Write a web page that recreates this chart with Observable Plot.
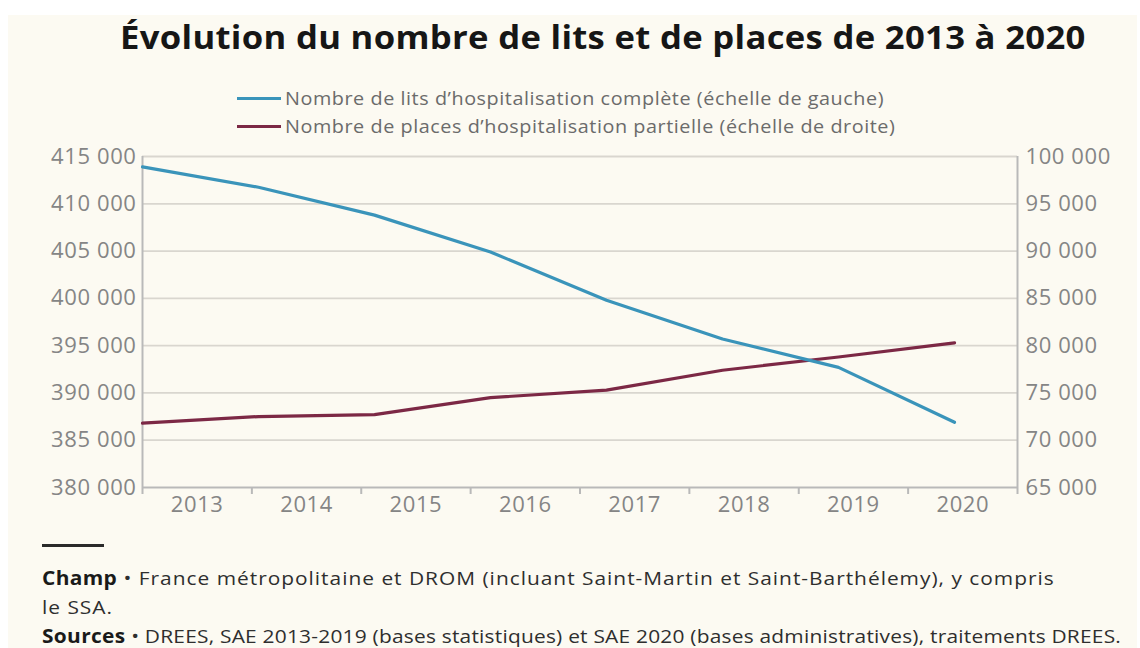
<!DOCTYPE html>
<html>
<head>
<meta charset="utf-8">
<script src="https://cdn.jsdelivr.net/npm/d3@7"></script>
<script src="https://cdn.jsdelivr.net/npm/@observablehq/plot@0.6"></script>
<style>
  html, body { margin: 0; padding: 0; background: #ffffff; }
  #page { position: relative; width: 1140px; height: 648px; overflow: hidden; font-family: "Open Sans", sans-serif; }
  #bg { position: absolute; left: 8px; top: 15px; width: 1129px; height: 633px; background: #fcfaf2; }
  #title { position: absolute; left: 120px; top: 14px; font-size: 33px; font-weight: 700; color: #161616; white-space: nowrap; letter-spacing: 0.3px; transform: scaleX(1.05); transform-origin: left center; }
  #legend { position: absolute; left: 237px; top: 84px; font-size: 18px; color: #6b6b6b; line-height: 28px; }
  .leg { display: flex; align-items: center; white-space: nowrap; }
  .sw { display: inline-block; width: 44px; height: 3px; margin-right: 4px; }
  .lt { display: inline-block; letter-spacing: 0.5px; transform: scaleX(1.1); transform-origin: left center; }
  .layer { position: absolute; left: 0; top: 0; }
  #foot { position: absolute; left: 42px; top: 544px; color: #2e2e2e; font-size: 19px; line-height: 29px; white-space: nowrap; }
  #foot .bar { width: 62px; height: 3px; background: #2a2a2a; margin-bottom: 17px; }
  #foot .ln { letter-spacing: 0.9px; transform: scaleX(1.1); transform-origin: left center; }
  #foot .ln.src { letter-spacing: 0.2px; }
  #foot b { font-weight: 700; color: #1a1a1a; letter-spacing: 0.3px; }
</style>
</head>
<body>
<div id="page">
  <div id="bg"></div>
  <div id="title">Évolution du nombre de lits et de places de 2013 à 2020</div>
  <div id="legend"></div>
  <div id="axisLayer" class="layer"></div>
  <div id="chartLayer" class="layer"></div>
  <div id="foot">
    <div class="bar"></div>
    <div class="ln"><b>Champ</b> • France métropolitaine et DROM (incluant Saint-Martin et Saint-Barthélemy), y compris</div>
    <div class="ln">le SSA.</div>
    <div class="ln src"><b>Sources</b> • DREES, SAE 2013-2019 (bases statistiques) et SAE 2020 (bases administratives), traitements DREES.</div>
  </div>
</div>
<script>
// ---- Data ----
const years = [2013, 2014, 2015, 2016, 2017, 2018, 2019, 2020];
const litsHC = [413900, 411750, 408800, 404900, 399800, 395700, 392700, 386900];   // left scale
const placesHP = [71800, 72500, 72700, 74500, 75300, 77400, 78800, 80300];         // right scale
const seriesNames = [
  "Nombre de lits d’hospitalisation complète (échelle de gauche)",
  "Nombre de places d’hospitalisation partielle (échelle de droite)"
];
const seriesColors = ["#3a94ba", "#7c2845"];
const leftTicks = [380000, 385000, 390000, 395000, 400000, 405000, 410000, 415000];
const rightTicks = [65000, 70000, 75000, 80000, 85000, 90000, 95000, 100000];

// ---- Helpers ----
const fr = d3.formatLocale({decimal: ",", thousands: " ", grouping: [3], currency: ["", " €"]});
const fmt = fr.format(",d");
const leftDomain = [leftTicks[0], leftTicks[leftTicks.length - 1]];
const offset = leftTicks[0] - rightTicks[0]; // maps right scale onto left scale (same span)

const table = years.map((year, i) => ({year, lits: litsHC[i], places: placesHP[i] + offset}));

// Legend
const legend = document.getElementById("legend");
seriesNames.forEach((name, i) => {
  const row = document.createElement("div");
  row.className = "leg";
  row.innerHTML = `<span class="sw" style="background:${seriesColors[i]}"></span><span class="lt">${name}</span>`;
  legend.appendChild(row);
});

const W = 1140, H = 520, mL = 142, mR = 123, mT = 156, mB = 33;
const font = "'Open Sans', sans-serif";
const tickColor = "#858585";
const baseStyle = {background: "transparent", fontFamily: font, fontSize: "22px", letterSpacing: "0.6px", color: tickColor, overflow: "visible"};

// ---- Category axis layer (band-centred labels) ----
const bounds = [years[0] - 0.5, ...years.map(y => y + 0.5)];
const axisPlot = Plot.plot({
  width: W, height: H, marginLeft: mL, marginRight: mR, marginTop: mT, marginBottom: mB,
  style: baseStyle,
  x: {domain: [bounds[0], bounds[bounds.length - 1]], axis: null},
  y: {domain: leftDomain, axis: null},
  marks: [
    Plot.ruleY(leftTicks.slice(1), {stroke: "#d9d6cf", strokeWidth: 1.8}),
    Plot.ruleY([leftTicks[0]], {stroke: "#b9b9b9", strokeWidth: 2}),
    Plot.ruleX([bounds[0], bounds[bounds.length - 1]], {stroke: "#b9b9b9", strokeWidth: 2}),
    Plot.axisX(bounds, {tickSize: 7, tickFormat: () => "", stroke: "#b9b9b9", strokeWidth: 2}),
    Plot.axisX(years, {tickSize: 0, tickPadding: 9, tickFormat: d => String(d), fill: tickColor, fontSize: 22})
  ]
});
document.getElementById("axisLayer").appendChild(axisPlot);

// ---- Lines + value axes layer ----
const chart = Plot.plot({
  width: W, height: H, marginLeft: mL, marginRight: mR, marginTop: mT, marginBottom: mB,
  style: baseStyle,
  x: {type: "point", domain: years, padding: 0.2525, align: 0, axis: null},
  y: {domain: leftDomain, axis: null},
  marks: [
    Plot.axisY(leftTicks, {anchor: "left", tickSize: 0, tickPadding: 6, tickFormat: fmt, fill: tickColor, fontSize: 22}),
    Plot.axisY(rightTicks.map(v => v + offset), {anchor: "right", tickSize: 0, tickPadding: 8, tickFormat: d => fmt(d - offset), fill: tickColor, fontSize: 22}),
    Plot.line(table, {x: "year", y: "places", stroke: seriesColors[1], strokeWidth: 3.2}),
    Plot.line(table, {x: "year", y: "lits", stroke: seriesColors[0], strokeWidth: 3.2})
  ]
});
document.getElementById("chartLayer").appendChild(chart);
</script>
</body>
</html>
